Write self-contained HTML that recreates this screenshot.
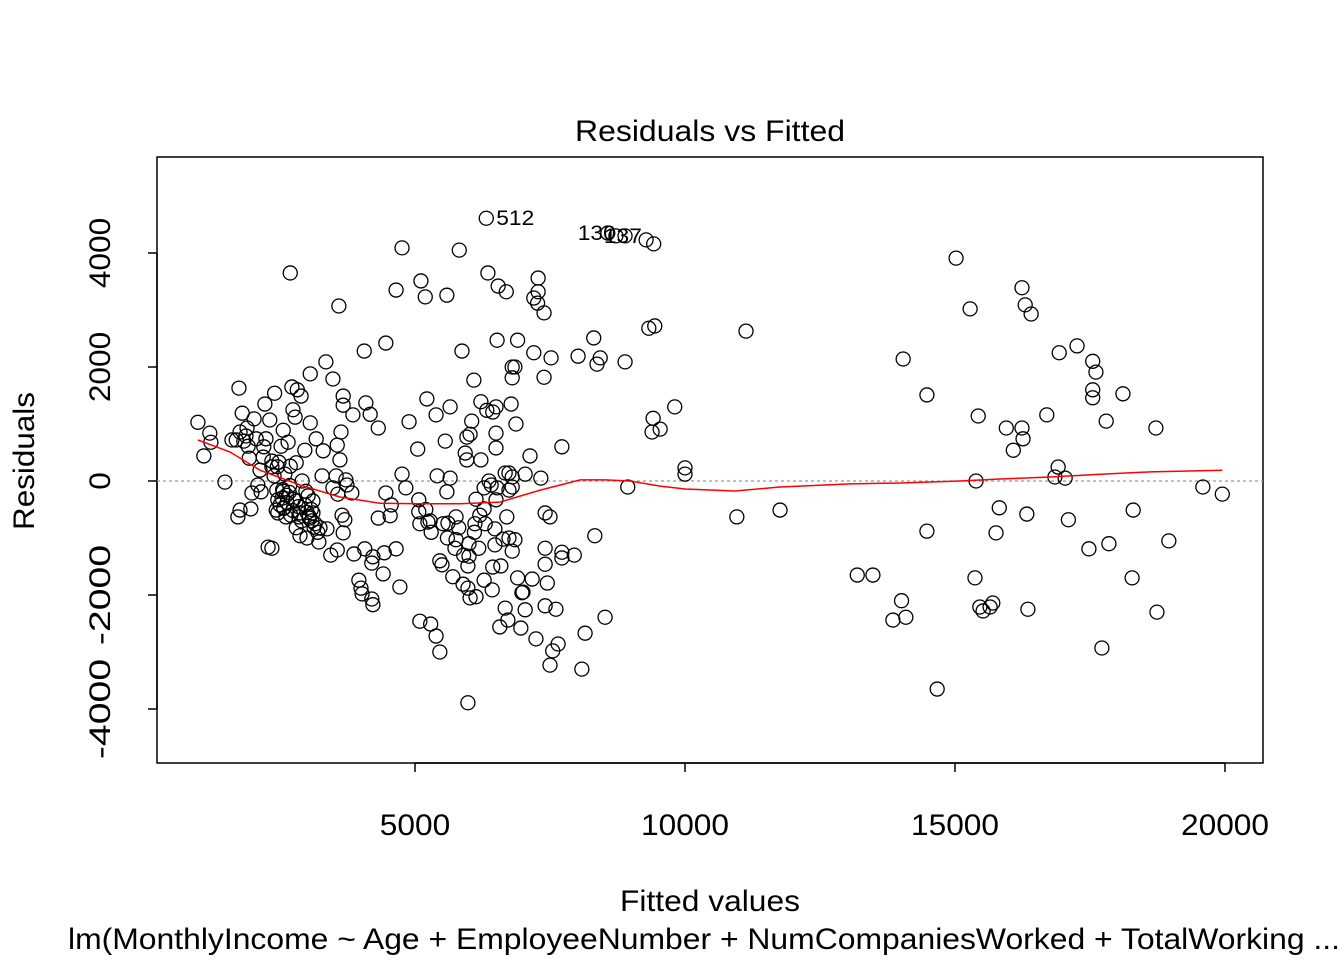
<!DOCTYPE html>
<html><head><meta charset="utf-8"><style>
html,body{margin:0;padding:0;background:#fff;}
svg text{font-family:"Liberation Sans",Arial,sans-serif;fill:#000;}
</style></head><body>
<svg id="chart" width="1344" height="960" xmlns="http://www.w3.org/2000/svg">
<text x="710" y="141" font-size="30" text-anchor="middle" textLength="270" lengthAdjust="spacingAndGlyphs">Residuals vs Fitted</text>
<rect x="157" y="157" width="1106" height="606" fill="none" stroke="#000" stroke-width="1.5"/>
<g id="xaxis"></g>
<g id="yaxis"></g>
<line id="zeroline" stroke="#999" stroke-width="1.2" stroke-dasharray="3,3"/>
<g id="points"></g>
<path id="smooth" fill="none" stroke="#ff0000" stroke-width="1.5"/>
<g id="labels"></g>
<text x="710" y="911" font-size="30" text-anchor="middle" textLength="180" lengthAdjust="spacingAndGlyphs">Fitted values</text>
<text x="704" y="949" font-size="30" text-anchor="middle" textLength="1272" lengthAdjust="spacingAndGlyphs">lm(MonthlyIncome ~ Age + EmployeeNumber + NumCompaniesWorked + TotalWorking ...</text>
<text transform="translate(34,461) rotate(-90)" font-size="30" text-anchor="middle" textLength="138" lengthAdjust="spacingAndGlyphs">Residuals</text>
</svg>
<script>
const xTicks=[5000,10000,15000,20000];
const yTicks=[-4000,-2000,0,2000,4000];
const fitted=[19590,19950,18960,18720,18740,18280,18300,18110,17800,17850,17720,17480,17610,17550,17550,17550,17260,16930,17100,16910,16850,17040,16700,16410,16300,16240,16330,16350,16240,16260,16080,15950,15820,15760,15700,15650,15520,15460,15370,15430,15390,15280,15020,14480,14480,14670,14040,14010,14090,13850,13480,13190,
11760,11130,10960,10000,10000,9810,9540,9410,9390,9440,9330,9420,9280,8940,8890,8890,8720,8570,8520,8330,8310,8370,8430,8150,8090,8020,7950,7720,7720,7720,7650,7500,7550,7610,7520,7500,7410,7410,7450,7390,7410,7410,7330,7390,7270,7280,7280,7200,7240,7200,7170,7130,7040,7040,7000,6980,6900,6900,6960,6870,6850,6800,6800,6800,6800,6850,6800,6780,6740,6740,6740,6720,6670,6670,6690,6700,6630,6590,6570,6540,6520,6500,6500,6520,6500,6480,6480,6440,6430,6410,6350,6370,6320,6330,6440,6500,6280,6280,6280,6220,6220,6180,6130,6130,6110,6090,6050,6020,6020,5980,6000,5980,5980,5960,5960,5930,5890,5870,5820,5810,5760,5760,5740,5700,5650,5650,5610,5590,5590,5560,5520,5500,5460,5460,5410,5390,5390,5290,5280,5240,5220,5190,5110,5090,5090,5070,5070,5050,4890,4830,4760,4760,4720,4650,4650,4560,4540,4460,4460,4430,4410,4320,4320,4220,4200,4170,4220,4200,4090,4070,4060,4020,4000,3960,3850,3870,3830,3740,3720,3700,3670,3670,3670,3650,3630,3610,3590,3570,3560,3560,3540,3480,3480,3440,3350,3370,3300,3280,3240,3220,3170,3130,3110,3110,3090,3060,3060,3040,3020,2980,2960,2910,2870,2890,2850,2820,2800,2800,2780,2740,2720,2690,2690,2650,2610,2590,2570,2560,2560,2520,2480,2460,2440,2400,2430,2390,2350,2350,2310,2280,2240,2220,2190,2150,2130,2090,2060,2020,1980,1960,1930,1910,1890,1870,1830,1800,1760,1740,1760,1720,1690,1610,1480,1220,1200,1090,980,
2460,2500,2540,2570,2630,2670,2700,2740,2800,2840,2870,2900,2960,3000,3040,3080,2550,2620,2680,2750,3150,3200,3000,2450,2350,2200,5300,5600,6100,6200,6300,6000,5200,5900];
const resid=[-105,-230,-1050,930,-2300,-1700,-510,1530,1050,-1100,-2930,-1190,1910,2100,1460,1600,2370,2250,-680,245,70,50,1160,2930,3090,3390,-580,-2250,930,740,540,930,-470,-910,-2140,-2210,-2280,-2210,-1700,1140,0,3020,3910,-880,1510,-3650,2140,-2100,-2390,-2440,-1650,-1650,
-510,2630,-630,230,120,1300,910,1100,860,2720,2680,4160,4230,-105,2090,4300,4300,4350,-2390,-960,2510,2050,2160,-2670,-3300,2190,-1300,-1250,-1350,600,-2860,-3230,-2980,-2250,2160,-630,-560,-2190,-1790,1820,-1460,-1180,50,2950,3120,3320,3560,3210,-2770,2250,-1720,440,120,-2260,-1950,-1960,-1700,2470,-2580,1000,-1030,-1230,-105,70,2000,2000,1810,1350,140,-160,-1000,-2440,-2230,140,3320,-630,-1020,-1490,-2560,3420,2470,840,580,-120,-330,-840,-1120,-1510,-1910,-70,3650,0,4610,1240,1210,1300,-1740,-490,-120,1390,370,-1180,-2030,-320,-750,1770,1050,820,-2050,-3890,-1320,-1880,-1490,770,370,490,-1810,2280,4050,-820,-1030,-630,-1180,-1680,1300,50,-740,3260,-190,700,-750,-1470,-1400,-3000,90,-2720,1160,-2510,-700,-720,1440,3230,3510,-2460,-750,-540,-330,560,1040,-120,120,4090,-1860,3350,-1190,-420,-610,-210,2420,-1260,-1630,930,-650,-1330,-1440,1170,-2170,-2070,1370,-1190,2280,-1980,-1880,-1740,1160,-1280,-210,-70,20,-680,1330,1490,-910,-600,860,370,3070,-230,-1210,630,90,1790,-120,-1300,2090,-840,530,90,-820,-1070,740,-810,-350,-560,-700,1880,1020,-650,-260,-180,540,0,-960,1490,-630,1600,-820,320,1120,1250,1650,260,3650,680,-630,120,-470,890,-180,610,330,-330,-160,1540,-510,90,250,-1180,1070,-1160,740,1350,420,-190,190,-70,740,1090,-210,-490,400,610,930,790,700,1190,-510,1630,860,-630,720,720,-20,680,840,440,1030,
-560,-420,-300,-480,-380,-200,-600,-520,-350,-450,-560,-700,-420,-550,-620,-500,-150,-250,-80,-320,-750,-900,-1000,250,350,600,-900,-1000,-900,-600,-750,-1100,-500,-1300];
const smoothX=[980,1570,2130,2870,3610,4350,5090,5830,6570,7320,8060,8520,8980,9540,10000,10930,11760,13060,13980,15090,15830,16760,17690,18610,19950];
const smoothY=[720,510,190,-70,-280,-390,-400,-400,-370,-160,20,20,0,-90,-140,-175,-105,-50,-35,0,35,70,120,160,190];
const labelText=["512","130","137"];
const labelX=[6320,8570,8720];
const labelY=[4610,4350,4300];

const NS="http://www.w3.org/2000/svg";
function sx(v){return 145+v*0.054;}
function sy(v){return 481-v*0.057;}
function mk(t,a){const e=document.createElementNS(NS,t);for(const k in a)e.setAttribute(k,a[k]);return e;}
function tlen(s){let w=0;for(const ch of String(s))w+=(ch==='-'?30:17.6);return w;}
const xa=document.getElementById('xaxis');
xa.appendChild(mk('line',{x1:sx(xTicks[0]),x2:sx(xTicks[xTicks.length-1]),y1:763,y2:763,stroke:'#000','stroke-width':1.5}));
xTicks.forEach(t=>{
 const l=mk('line',{x1:sx(t),x2:sx(t),y1:763,y2:772,stroke:'#000','stroke-width':1.5});
 
 
 xa.appendChild(l);
 const tx=mk('text',{x:sx(t),y:835,'font-size':30,'text-anchor':'middle',textLength:tlen(t),lengthAdjust:'spacingAndGlyphs'});
 
 
 tx.textContent=t;xa.appendChild(tx);
});
const ya=document.getElementById('yaxis');
ya.appendChild(mk('line',{x1:157,x2:157,y1:sy(yTicks[0]),y2:sy(yTicks[yTicks.length-1]),stroke:'#000','stroke-width':1.5}));
yTicks.forEach(t=>{
 const l=mk('line',{x1:148,x2:157,y1:sy(t),y2:sy(t),stroke:'#000','stroke-width':1.5});
 
 
 ya.appendChild(l);
 const tx=mk('text',{transform:`translate(110,${sy(t)}) rotate(-90)`,'font-size':30,'text-anchor':'middle',textLength:tlen(t),lengthAdjust:'spacingAndGlyphs'});
 
 
 tx.textContent=t;ya.appendChild(tx);
});
const zl=document.getElementById('zeroline');
zl.setAttribute('x1',157);zl.setAttribute('x2',1263);zl.setAttribute('y1',sy(0));zl.setAttribute('y2',sy(0));
const pg=document.getElementById('points');
for(let i=0;i<fitted.length;i++){
 const c=mk('circle',{cx:sx(fitted[i]),cy:sy(resid[i]),r:7,fill:'none',stroke:'#000','stroke-width':1.3});
 
 
 pg.appendChild(c);
}
let d='';
for(let i=0;i<smoothX.length;i++){d+=(i?'L':'M')+sx(smoothX[i]).toFixed(1)+','+sy(smoothY[i]).toFixed(1);}
document.getElementById('smooth').setAttribute('d',d);
const lg=document.getElementById('labels');
const off=[10,-30,-12];
for(let i=0;i<labelText.length;i++){
 const t=mk('text',{x:sx(labelX[i])+off[i],y:sy(labelY[i])+7,'font-size':21,textLength:38,lengthAdjust:'spacingAndGlyphs'});
 
 
 t.textContent=labelText[i];lg.appendChild(t);
}
</script>
</body></html>
